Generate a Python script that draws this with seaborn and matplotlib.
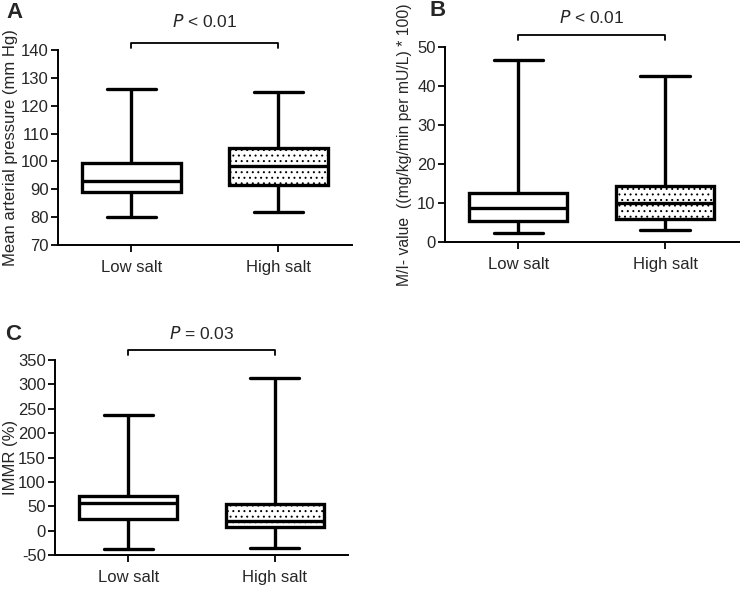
import matplotlib
matplotlib.use("Agg")
import matplotlib.pyplot as plt
import seaborn as sns
import pandas as pd

# five-number summaries: min, q1, median, q3, max
groups = ["Low salt", "High salt"]

map_low = [80, 89, 93, 99.5, 126]
map_high = [82, 91.5, 98.5, 105, 125]

mi_low = [2.3, 5.3, 8.8, 12.6, 46.6]
mi_high = [3.1, 6.0, 10.1, 14.5, 42.6]

immr_low = [-38, 23, 57, 71, 237]
immr_high = [-35, 8, 19, 54, 314]

sns.set_style("ticks")
plt.rcParams["font.family"] = ["Liberation Sans", "DejaVu Sans"]
plt.rcParams["axes.unicode_minus"] = False
plt.rcParams["hatch.linewidth"] = 0.7
plt.rcParams["hatch.color"] = "#707070"


def make_frame(low, high):
    return pd.DataFrame({
        "group": [groups[0]] * len(low) + [groups[1]] * len(high),
        "value": list(low) + list(high),
    })


def draw_panel(ax, low, high, ylim, yticks, ylabel, ptext, bracket_y, text_y,
               labelpad, label_size=12):
    df = make_frame(low, high)
    lw = 2.4
    sns.boxplot(data=df, x="group", y="value", order=groups, ax=ax,
                whis=(0, 100), width=0.67, color="white", linecolor="black",
                linewidth=lw, showfliers=False,
                capprops={"linewidth": lw}, whiskerprops={"linewidth": lw},
                medianprops={"linewidth": lw, "color": "black"})
    # dotted fill for the high salt box
    ax.patches[1].set_hatch("...")
    ax.set_xlim(-0.5, 1.5)
    ax.set_ylim(*ylim)
    ax.set_yticks(yticks)
    ax.set_xlabel("")
    ax.set_ylabel(ylabel, fontsize=label_size, labelpad=labelpad)
    ax.tick_params(axis="both", labelsize=12, width=1.3, length=5, color="black")
    ax.tick_params(axis="y", pad=1.5)
    ax.tick_params(axis="x", pad=6)
    sns.despine(ax=ax)
    for s in ["left", "bottom"]:
        ax.spines[s].set_linewidth(1.4)
        ax.spines[s].set_color("black")

    # significance bracket
    tr = ax.get_xaxis_transform()
    ax.plot([0, 0, 1, 1], [bracket_y - 0.025, bracket_y, bracket_y, bracket_y - 0.025],
            color="black", lw=1.3, transform=tr, clip_on=False)
    ax.text(0.5, text_y, ptext, transform=tr, ha="center", va="center",
            fontsize=12.5, clip_on=False)


fig = plt.figure(figsize=(7.4, 5.89), dpi=100)
ax_a = fig.add_axes([0.0784, 0.584, 0.397, 0.331])
ax_b = fig.add_axes([0.601, 0.589, 0.397, 0.331])
ax_c = fig.add_axes([0.0743, 0.0577, 0.396, 0.331])

draw_panel(ax_a, map_low, map_high, (70, 140), range(70, 141, 10),
           "Mean arterial pressure (mm Hg)", r"$P$ < 0.01", 1.036, 1.144, 2)
draw_panel(ax_b, mi_low, mi_high, (0, 50), range(0, 51, 10),
           "M/I- value  ((mg/kg/min per mU/L) * 100)", r"$P$ < 0.01", 1.062, 1.154, 4,
           label_size=11.3)
draw_panel(ax_c, immr_low, immr_high, (-50, 350), range(-50, 351, 50),
           "IMMR (%)", r"$P$ = 0.03", 1.051, 1.138, 0)

fig.text(6 / 740, 1 - 12 / 589, "A", fontsize=16, fontweight="bold", va="center")
fig.text(430 / 740, 1 - 10 / 589, "B", fontsize=16, fontweight="bold", va="center")
fig.text(5 / 740, 1 - 335 / 589, "C", fontsize=16, fontweight="bold", va="center")

fig.savefig("out.png", dpi=100)
